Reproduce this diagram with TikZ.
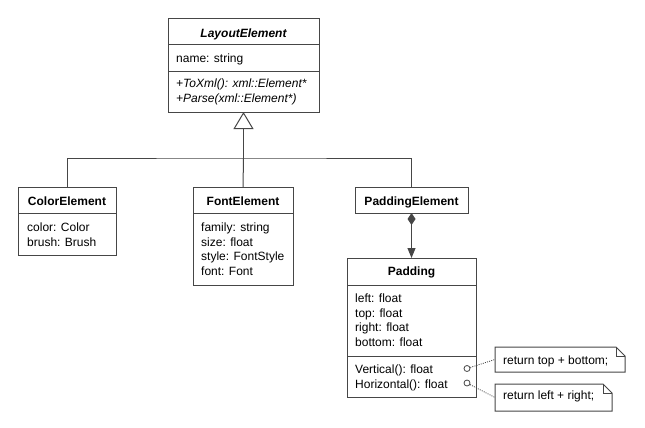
\documentclass[tikz,border=0pt]{standalone}
\usepackage{fontspec}
\setmainfont{Liberation Sans}
\usetikzlibrary{arrows.meta}
\definecolor{linec}{RGB}{70,70,70}
\begin{document}
\begin{tikzpicture}[x=1pt,y=-1pt,
  box/.style={draw=linec, line width=1pt, fill=white, anchor=north west, inner sep=0pt, outer sep=0pt},
  ttl/.style={anchor=base, inner sep=0pt, font=\fontsize{12}{14}\selectfont\bfseries},
  txt/.style={anchor=base west, inner sep=0pt, font=\fontsize{12}{14}\selectfont},
  sepline/.style={draw=linec, line width=1pt},
  conn/.style={draw=linec, line width=1pt},
  dotconn/.style={draw=linec, line width=0.8pt, dash pattern=on 1pt off 1.2pt},
  port/.style={circle, draw=linec, line width=0.8pt, fill=white, minimum size=6pt, inner sep=0pt},
  notebox/.style={draw=linec, line width=1pt, fill=white}
  ]
\useasboundingbox (0,0) rectangle (645,428);

% LayoutElement
\node[box, minimum width=151pt, minimum height=93pt] (layout) at (168,19) {};
\draw[sepline] (layout.west |- 0,45) -- (layout.east |- 0,45);
\draw[sepline] (layout.west |- 0,72) -- (layout.east |- 0,72);
\node[ttl, font=\fontsize{12}{14}\selectfont\bfseries\itshape] (layoutT) at (243.5,37.5) {LayoutElement};
\node[txt] (layoutA) at (176,62.5) {name: string};
\node[txt, font=\fontsize{12}{14}\selectfont\itshape] (layoutM1) at (176,87.5) {+ToXml(): xml::Element*};
\node[txt, font=\fontsize{12}{14}\selectfont\itshape] (layoutM2) at (176,102) {+Parse(xml::Element*)};

% ColorElement
\node[box, minimum width=98pt, minimum height=68pt] (color) at (18,187) {};
\draw[sepline] (color.west |- 0,213) -- (color.east |- 0,213);
\node[ttl] (colorT) at (67,205) {ColorElement};
\node[txt] (colorA1) at (27,231) {color: Color};
\node[txt] (colorA2) at (27,246) {brush: Brush};

% FontElement
\node[box, minimum width=100pt, minimum height=98pt] (font) at (193,187) {};
\draw[sepline] (font.west |- 0,213) -- (font.east |- 0,213);
\node[ttl] (fontT) at (243,205) {FontElement};
\node[txt] (fontA1) at (201,231) {family: string};
\node[txt] (fontA2) at (201,246) {size: float};
\node[txt] (fontA3) at (201,260.5) {style: FontStyle};
\node[txt] (fontA4) at (201,275) {font: Font};

% PaddingElement
\node[box, minimum width=113pt, minimum height=26pt] (padel) at (355,187) {};
\node[ttl] (padelT) at (411.5,205) {PaddingElement};

% Padding
\node[box, minimum width=129pt, minimum height=139pt] (pad) at (347,258) {};
\draw[sepline] (pad.west |- 0,285) -- (pad.east |- 0,285);
\draw[sepline] (pad.west |- 0,356) -- (pad.east |- 0,356);
\node[ttl] (padT) at (411.5,275.5) {Padding};
\node[txt] (padA1) at (355,302) {left: float};
\node[txt] (padA2) at (355,317) {top: float};
\node[txt] (padA3) at (355,331.5) {right: float};
\node[txt] (padA4) at (355,346.5) {bottom: float};
\node[txt] (padM1) at (355,373) {Vertical(): float};
\node[txt] (padM2) at (355,388) {Horizontal(): float};

% generalization
\coordinate (bus) at (layout.south |- 0,158);
\draw[conn] (color.north) |- (bus) -| (padel.north);
\draw[conn] (font.north) -- (bus);
\draw[conn, -{Triangle[open, length=17pt, width=20pt]}] (bus) -- (layout.south);

% composition
\draw[conn, {Diamond[length=12pt, width=8pt]}-{Triangle[length=10pt, width=8pt]}] (padel.south) -- (pad.north);

% notes
\draw[notebox] (495,347) -- (616,347) -- (625,356) -- (625,372) -- (495,372) -- cycle;
\draw[linec, line width=0.8pt] (616,347) -- (616,356) -- (625,356);
\coordinate (note1) at (495,359.5);
\node[txt] (note1T) at (503,364) {return top + bottom;};

\draw[notebox] (495,384) -- (603,384) -- (612,393) -- (612,411) -- (495,411) -- cycle;
\draw[linec, line width=0.8pt] (603,384) -- (603,393) -- (612,393);
\coordinate (note2) at (495,397.5);
\node[txt] (note2T) at (503,399.5) {return left + right;};

\node[port] (p1) at (467,368.5) {};
\node[port] (p2) at (467,383) {};
\draw[dotconn] (p1) -- (note1);
\draw[dotconn] (p2) -- (note2);
\end{tikzpicture}
\end{document}
